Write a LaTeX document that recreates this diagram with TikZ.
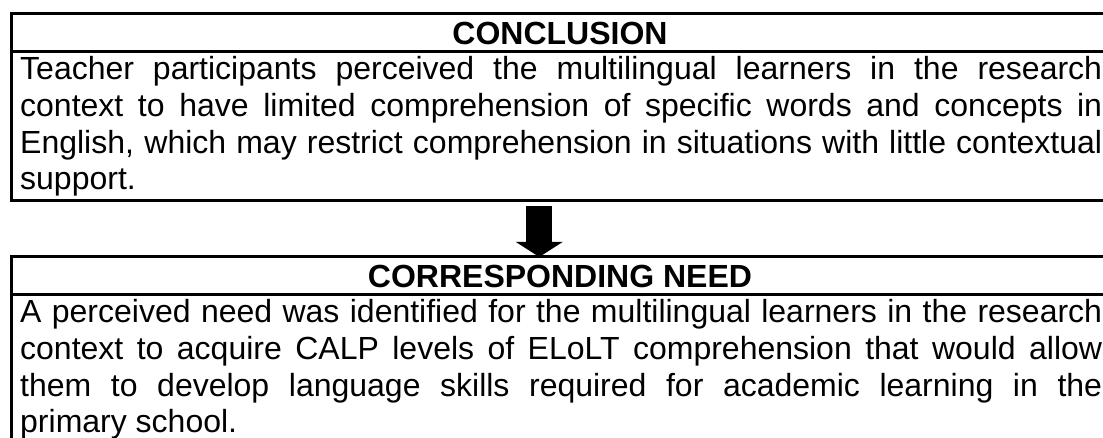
\documentclass[tikz,border=0pt]{standalone}
\usepackage{fontspec}
\setmainfont{Liberation Sans}
\usetikzlibrary{arrows.meta}
\begin{document}
\begin{tikzpicture}[x=1pt,y=-1pt,
  frame/.style={draw, line width=3pt, rectangle, inner sep=0pt, outer sep=0pt, anchor=north west, minimum width=1097.5pt},
  head/.style={font=\fontsize{32}{36.6}\selectfont\bfseries, inner sep=0pt, anchor=center},
  body/.style={font=\fontsize{32}{36.6}\selectfont, inner sep=0pt, anchor=base west},
  rule/.style={line width=3pt},
  flow/.style={line width=26pt, -{Triangle[width=46pt,length=15pt]}}]
\useasboundingbox (0,0) rectangle (1103,438);
\clip (0,0) rectangle (1103,438);
% top box
\node[frame, minimum height=187.5pt] (box1) at (11.5,13.5) {};
\draw[rule] (box1.west |- 0,52) -- (box1.east |- 0,52);
\node[head] (h1) at (560,33) {CONCLUSION};
\node[body] (t1) at (20,80) {\parbox[t]{1082pt}{Teacher participants perceived the multilingual learners in the research\linebreak
context to have limited comprehension of specific words and concepts in\linebreak
English, which may restrict comprehension in situations with little contextual\linebreak
support.}};
% bottom box
\node[frame, minimum height=250pt] (box2) at (11.5,257) {};
\draw[rule] (box2.west |- 0,295) -- (box2.east |- 0,295);
\node[head] (h2) at (560,276) {CORRESPONDING NEED};
\node[body] (t2) at (20,323) {\parbox[t]{1082pt}{A perceived need was identified for the multilingual learners in the research\linebreak
context to acquire CALP levels of ELoLT comprehension that would allow\linebreak
them to develop language skills required for academic learning in the\linebreak
primary school.}};
% arrow
\draw[flow] ([xshift=-21pt,yshift=-5pt]box1.south) -- ([xshift=-21pt]box2.north);
\end{tikzpicture}
\end{document}
